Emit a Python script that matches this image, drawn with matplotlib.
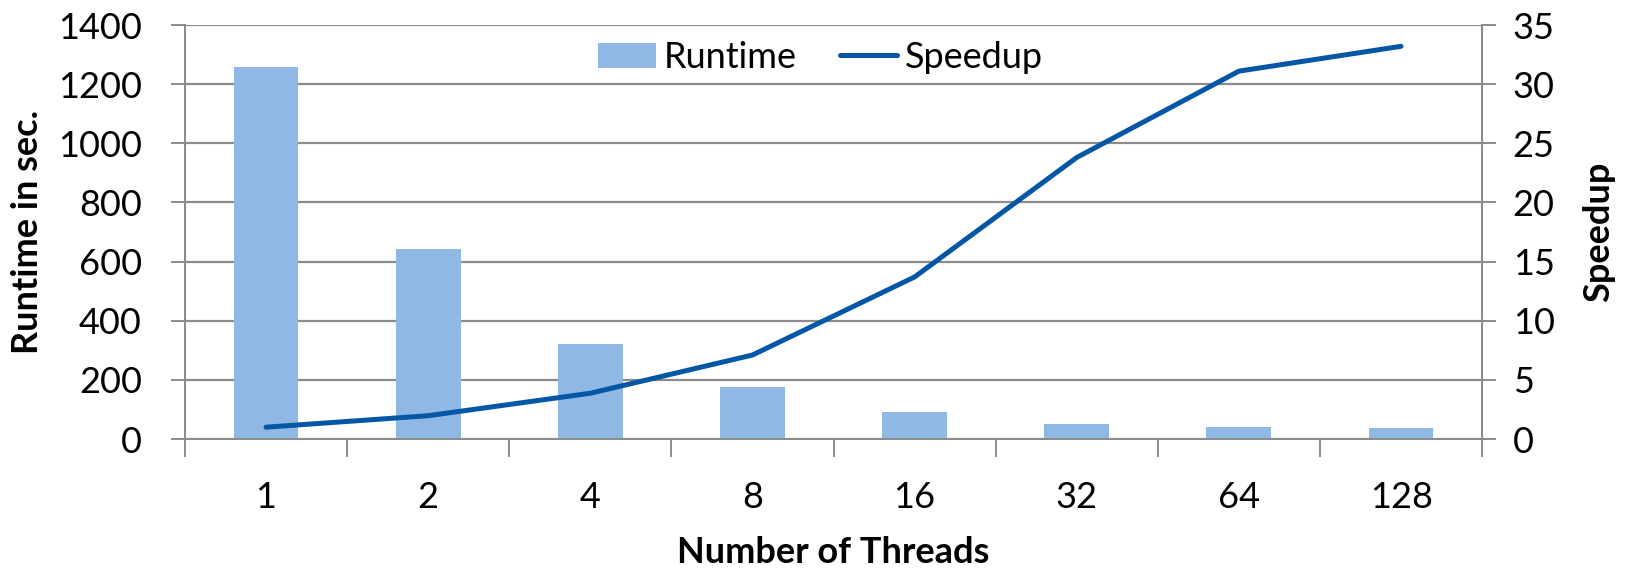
import numpy as np
import matplotlib
matplotlib.use("Agg")
from matplotlib import pyplot as plt

threads = ["1", "2", "4", "8", "16", "32", "64", "128"]
runtime = [1258, 641, 323, 175, 91, 52, 41, 38]
speedup = [1.0, 1.97, 3.87, 7.1, 13.7, 23.8, 31.1, 33.2]

plt.rcParams["font.family"] = ["Lato", "DejaVu Sans"]
grid_col = "#8c8c8c"
bar_col = "#8fb9e4"
line_col = "#0457a5"

fig = plt.figure(figsize=(16.31, 5.70), dpi=100)
ax = fig.add_axes([0.1134, 0.2298, 0.9087 - 0.1134, 0.9561 - 0.2298])
ax2 = ax.twinx()

x = np.arange(len(threads))
bars = ax.bar(x, runtime, width=0.4, color=bar_col, label="Runtime", zorder=2)
line, = ax2.plot(x, speedup, color=line_col, lw=3.6, label="Speedup",
                 solid_capstyle="round", zorder=3)

ax.set_xlim(-0.5, len(threads) - 0.5)
ax.set_ylim(0, 1400)
ax.set_yticks(range(0, 1401, 200))
ax2.set_ylim(0, 35)
ax2.set_yticks(range(0, 36, 5))

ax.yaxis.grid(True, color=grid_col, lw=1.6)
ax.set_axisbelow(True)

# category ticks between groups, labels in the middle
ax.set_xticks(x)
ax.set_xticklabels(threads)
ax.set_xticks(np.arange(-0.5, len(threads)), minor=True)
ax.tick_params(axis="x", which="major", length=0, pad=30, labelsize=26)
ax.tick_params(axis="x", which="minor", length=13, width=1.4, color=grid_col, direction="out")
ax.tick_params(axis="y", length=10, width=1.4, color=grid_col, labelsize=26, pad=21)
ax2.tick_params(axis="y", length=10, width=1.4, color=grid_col, labelsize=26, pad=12)

for a in (ax, ax2):
    a.spines["top"].set_visible(False)
    for s in ("left", "right", "bottom"):
        a.spines[s].set_color(grid_col)
        a.spines[s].set_linewidth(1.4)

ax.set_xlabel("Number of Threads", fontsize=26, fontweight="bold", labelpad=16)
ax.set_ylabel("Runtime in sec.", fontsize=26, fontweight="bold", labelpad=10)
ax2.set_ylabel("Speedup", fontsize=26, fontweight="bold", labelpad=20)

ax2.legend([bars, line], ["Runtime", "Speedup"], loc="upper center",
           bbox_to_anchor=(0.49, 1.04), ncol=2, frameon=False, fontsize=26,
           handlelength=1.6, handletextpad=0.2, columnspacing=1.2)

fig.savefig("out.png", dpi=100)
